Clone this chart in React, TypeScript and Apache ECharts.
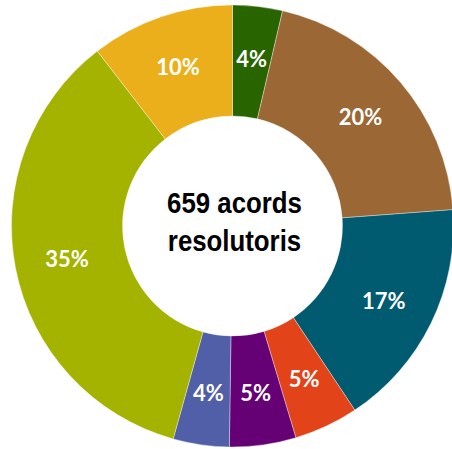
import React, { useEffect, useRef } from "react";
import * as echarts from "echarts";

const categories = ["A", "B", "C", "D", "E", "F", "G", "H"];
const values = [24, 133, 111, 31, 32, 27, 232, 69];
const colors = ["#286400", "#9a6735", "#005a70", "#e24318", "#650075", "#505fa8", "#a3b300", "#ebaf1c"];
const centerLines = ["659 acords", "resolutoris"];

export default function App() {
  const ref = useRef<HTMLDivElement>(null);
  useEffect(() => {
    if (!ref.current) return;
    const chart = echarts.init(ref.current, null, { renderer: "svg" });
    const total = values.reduce((a, b) => a + b, 0);
    chart.setOption({
      animation: false,
      backgroundColor: "#ffffff",
      series: [
        {
          type: "pie",
          center: [232.5, 226],
          radius: [110, 221],
          startAngle: 90,
          clockwise: true,
          avoidLabelOverlap: false,
          itemStyle: { borderColor: "rgba(255,255,255,0.6)", borderWidth: 0.6 },
          label: {
            show: true,
            position: "inside",
            color: "#ffffff",
            fontFamily: "Lato",
            fontWeight: 700,
            fontSize: 22,
            formatter: (p: any) => Math.round((p.value / total) * 100) + "%",
          },
          labelLine: { show: false },
          data: categories.map((c, i) => ({ name: c, value: values[i], itemStyle: { color: colors[i] } })),
        },
      ],
      graphic: centerLines.map((t, i) => ({
        type: "text",
        x: 234.5,
        y: 203 + i * 38,
        scaleX: 0.89,
        style: {
          text: t,
          fill: "#000000",
          font: "bold 29px 'Liberation Sans', Arial, sans-serif",
          textAlign: "center",
          textVerticalAlign: "middle",
        },
      })),
    });
    return () => chart.dispose();
  }, []);
  return <div ref={ref} style={{ position: "fixed", left: 0, top: 0, width: 452, height: 449 }} />;
}
